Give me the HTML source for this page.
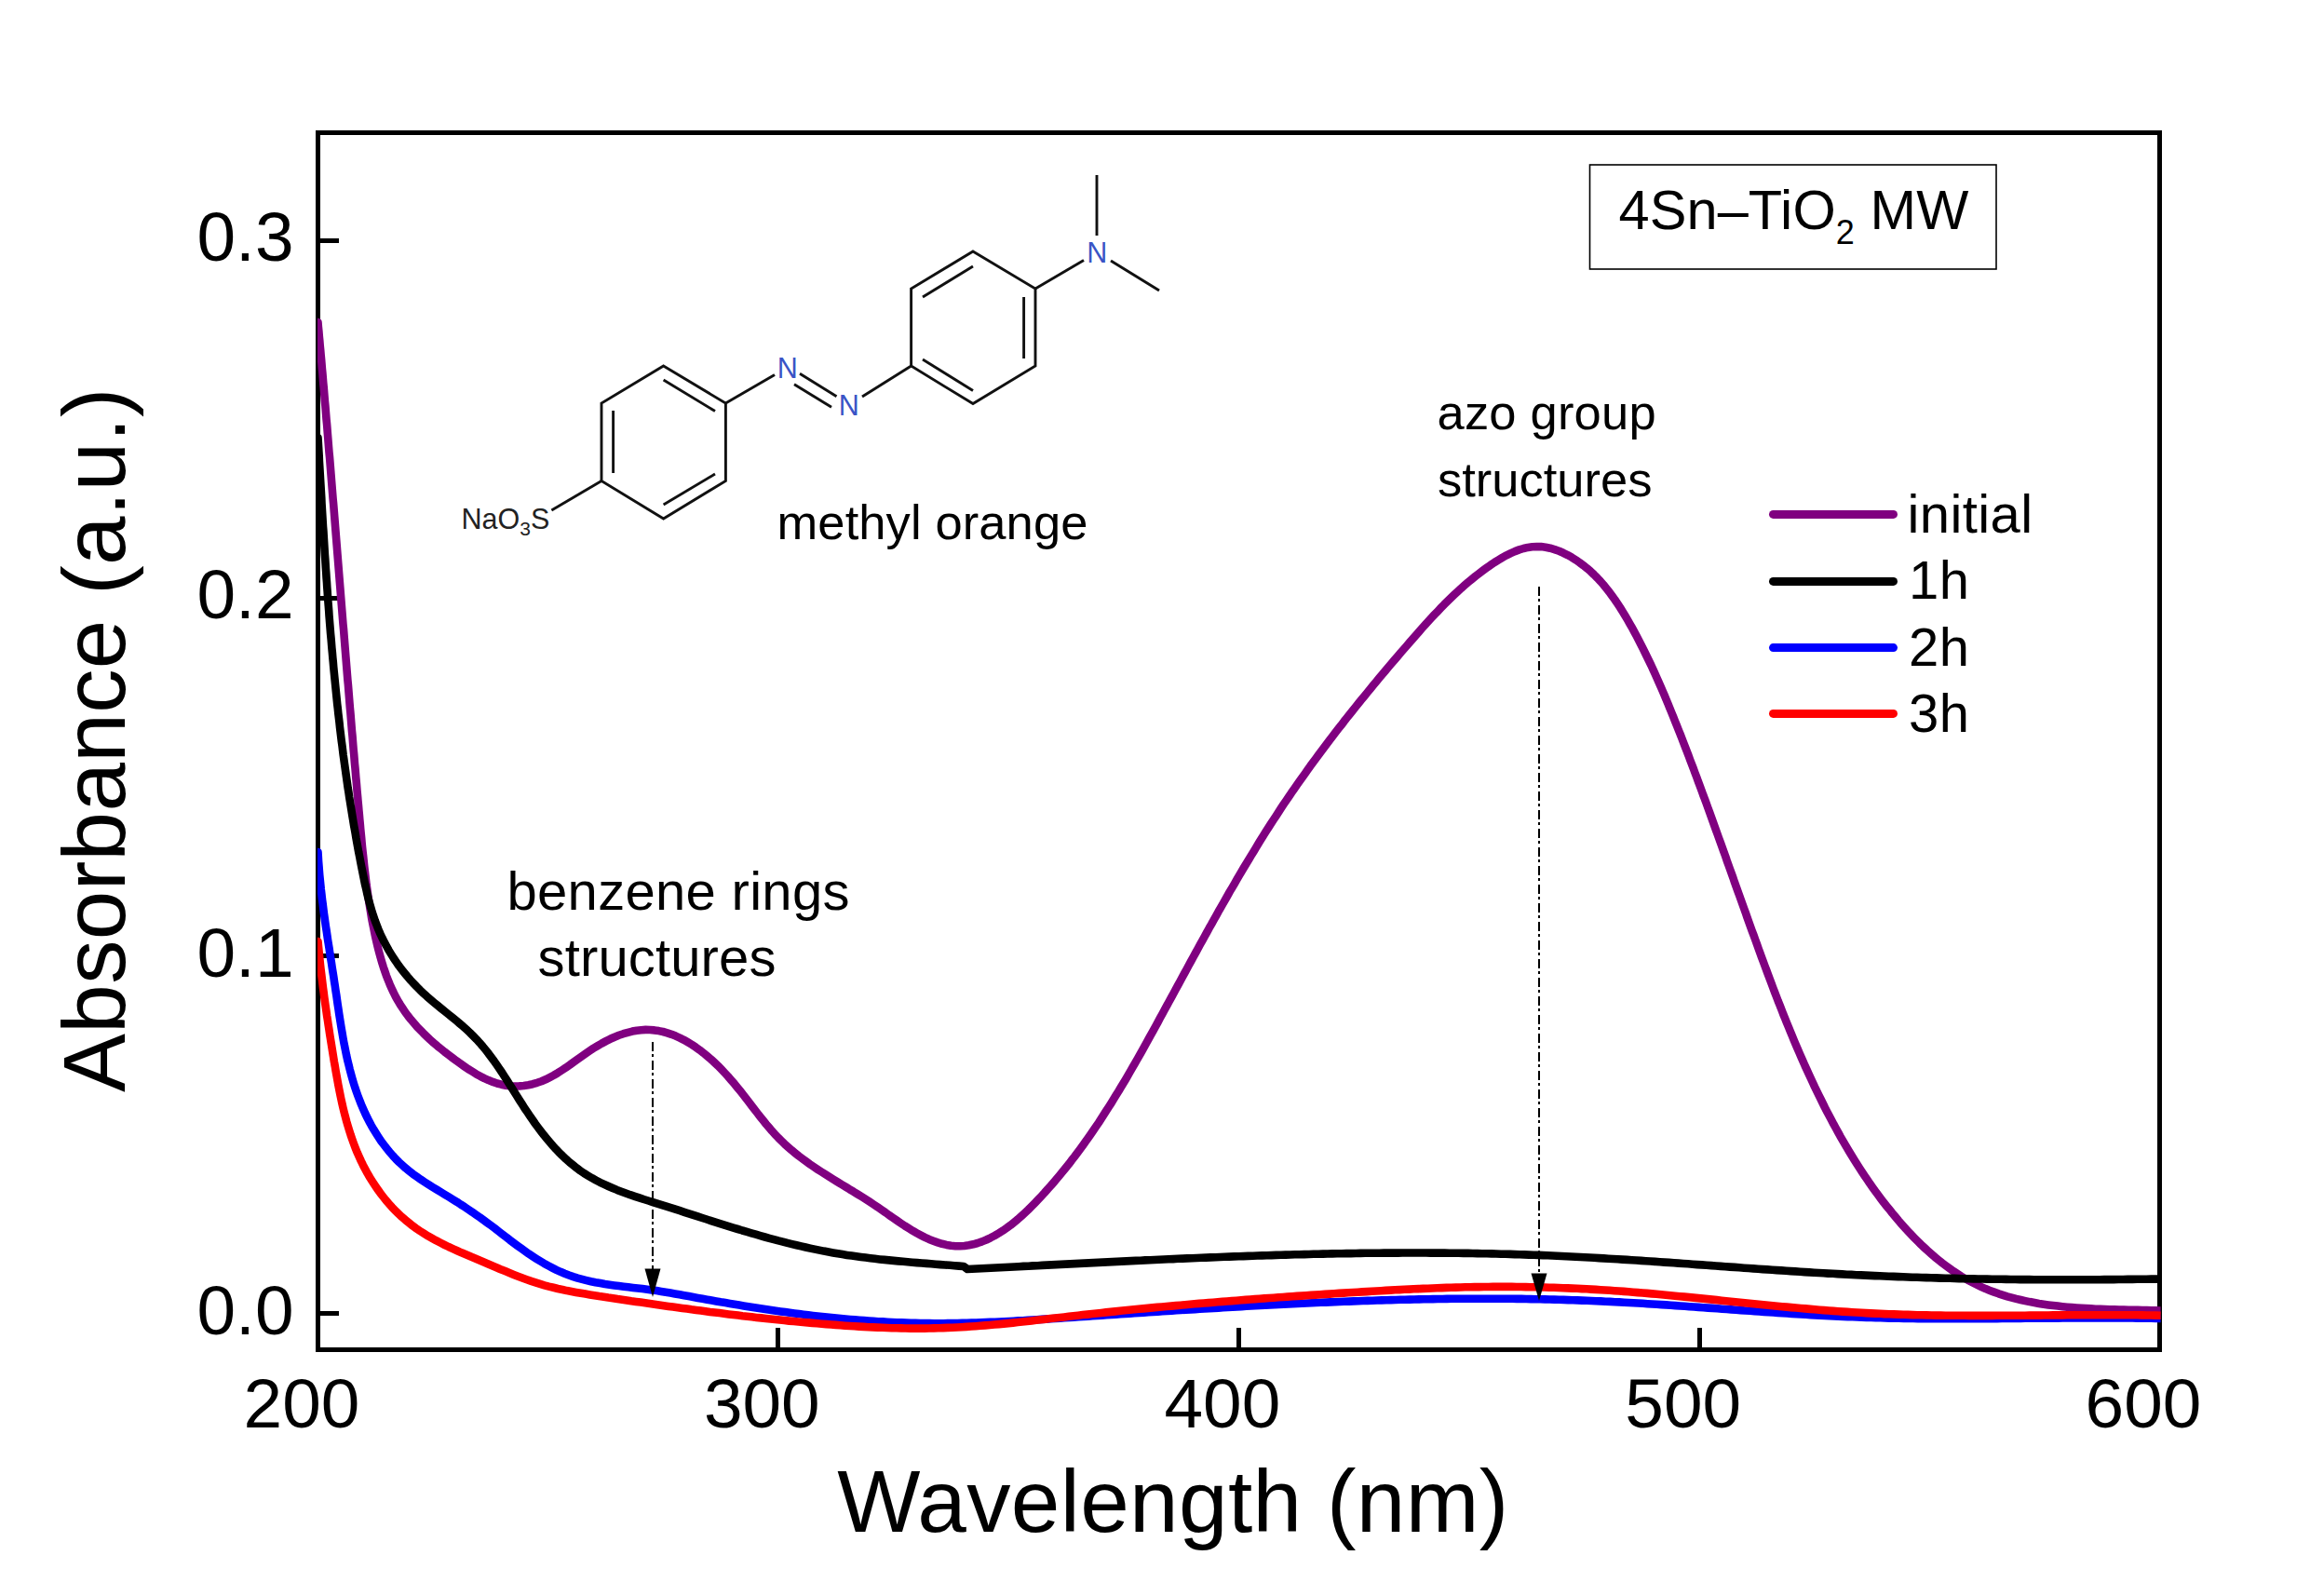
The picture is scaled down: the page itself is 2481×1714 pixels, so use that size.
<!DOCTYPE html>
<html lang="en"><head><meta charset="utf-8"><title>UV-Vis absorbance 4Sn-TiO2 MW</title>
<style>
html,body{margin:0;padding:0;background:#fff;}
body{width:2481px;height:1714px;overflow:hidden;}
svg{display:block;}
text{font-family:"Liberation Sans",Arial,Helvetica,sans-serif;fill:#000;}
.tick{font-size:74.8px;}
.axt{font-size:94.5px;}
.ann{font-size:52.5px;}
.leg{font-size:58px;}
.ttl{font-size:59.5px;}
.mol{font-size:30.5px;fill:#222;}
.molN{font-size:30.5px;fill:#3a54c6;}
.bond{stroke:#111;stroke-width:2.9;stroke-linecap:butt;stroke-linejoin:miter;fill:none;}
.crv{fill:none;stroke-width:8.6;stroke-linejoin:round;stroke-linecap:round;}
</style></head><body>
<svg width="2481" height="1714" viewBox="0 0 2481 1714">
<rect x="0" y="0" width="2481" height="1714" fill="#fff"/>
<g stroke="#000" stroke-width="5" fill="none" shape-rendering="crispEdges">
<rect x="341.5" y="142.5" width="1978.0" height="1307.0"/>
<line x1="835.8" y1="1447.0" x2="835.8" y2="1426.0"/>
<line x1="1330.4" y1="1447.0" x2="1330.4" y2="1426.0"/>
<line x1="1825.2" y1="1447.0" x2="1825.2" y2="1426.0"/>
<line x1="344.0" y1="1410.5" x2="364.0" y2="1410.5"/>
<line x1="344.0" y1="1026.5" x2="364.0" y2="1026.5"/>
<line x1="344.0" y1="642.4" x2="364.0" y2="642.4"/>
<line x1="344.0" y1="258.4" x2="364.0" y2="258.4"/>
</g>
<clipPath id="pc"><rect x="341" y="100" width="1979.6" height="1400"/></clipPath>
<g class="crv" clip-path="url(#pc)">
<path stroke="#800080" d="M341.5 346.0L341.9 351.0L342.4 356.0L342.8 361.0L343.3 366.0L343.7 371.0L344.2 375.9L344.6 380.9L345.1 385.9L345.5 390.9L345.9 395.9L346.4 400.9L346.8 405.9L347.2 410.9L347.7 415.9L348.1 420.9L348.5 425.9L348.9 430.8L349.4 435.8L349.8 440.8L350.2 445.8L350.6 450.8L351.1 455.8L351.5 460.8L351.9 465.8L352.3 470.8L352.7 475.8L353.1 480.8L353.5 485.8L354.0 490.8L354.4 495.7L354.8 500.7L355.2 505.7L355.6 510.7L356.0 515.7L356.4 520.7L356.8 525.7L357.2 530.7L357.6 535.7L358.1 540.7L358.5 545.7L358.9 550.7L359.3 555.7L359.7 560.7L360.1 565.7L360.5 570.6L360.9 575.6L361.3 580.6L361.7 585.6L362.1 590.6L362.5 595.6L362.9 600.6L363.3 605.6L363.7 610.6L364.1 615.6L364.5 620.6L364.9 625.6L365.3 630.6L365.7 635.6L366.1 640.5L366.5 645.5L366.9 650.5L367.3 655.5L367.7 660.5L368.1 665.5L368.5 670.5L369.0 675.5L369.4 680.5L369.8 685.5L370.2 690.5L370.6 695.5L371.0 700.5L371.4 705.5L371.8 710.4L372.2 715.4L372.6 720.4L373.0 725.4L373.4 730.4L373.9 735.4L374.3 740.4L374.7 745.4L375.1 750.4L375.5 755.4L375.9 760.4L376.4 765.4L376.8 770.4L377.2 775.3L377.6 780.3L378.0 785.3L378.5 790.3L378.9 795.3L379.3 800.3L379.7 805.3L380.2 810.3L380.6 815.3L381.0 820.3L381.5 825.3L381.9 830.2L382.3 835.2L382.8 840.2L383.2 845.2L383.6 850.2L384.1 855.2L384.5 860.2L385.0 865.2L385.4 870.2L385.9 875.1L386.3 880.1L386.8 885.1L387.2 890.1L387.7 895.1L388.2 900.1L388.6 905.1L389.1 910.1L389.6 915.0L390.2 920.0L390.7 925.0L391.2 930.0L391.8 935.0L392.4 939.9L393.0 944.9L393.6 949.9L394.3 954.8L395.0 959.8L395.7 964.8L396.5 969.7L397.3 974.7L398.1 979.6L398.9 984.6L399.8 989.5L400.8 994.5L401.8 999.4L402.8 1004.3L403.9 1009.2L405.0 1014.1L406.2 1019.0L407.5 1023.9L408.8 1028.7L410.2 1033.5L411.7 1038.3L413.3 1043.0L414.9 1047.7L416.7 1052.3L418.6 1056.9L420.6 1061.4L422.7 1065.9L424.9 1070.3L427.3 1074.6L429.8 1078.8L432.5 1082.9L435.2 1087.0L438.2 1091.0L441.2 1094.8L444.4 1098.6L447.7 1102.4L451.2 1106.0L454.7 1109.6L458.3 1113.1L462.0 1116.6L465.8 1120.0L469.7 1123.3L473.7 1126.5L477.7 1129.8L481.8 1132.9L485.9 1136.0L490.0 1139.1L494.2 1142.1L498.5 1145.1L502.7 1148.0L507.1 1150.7L511.4 1153.4L515.8 1155.8L520.3 1158.1L524.7 1160.1L529.3 1161.9L533.9 1163.5L538.5 1164.7L543.3 1165.7L548.0 1166.3L552.8 1166.5L557.7 1166.4L562.5 1166.0L567.4 1165.2L572.2 1164.2L576.9 1162.8L581.5 1161.2L586.0 1159.3L590.4 1157.1L594.8 1154.8L599.1 1152.2L603.3 1149.5L607.6 1146.7L611.8 1143.8L615.9 1140.8L620.1 1137.8L624.4 1134.8L628.6 1131.8L632.9 1128.8L637.2 1125.9L641.7 1123.2L646.2 1120.6L650.8 1118.1L655.4 1115.8L660.1 1113.7L664.8 1111.8L669.5 1110.2L674.3 1108.8L679.1 1107.6L683.9 1106.7L688.6 1106.2L693.4 1105.9L698.1 1106.0L702.8 1106.4L707.5 1107.1L712.1 1108.0L716.7 1109.3L721.2 1110.8L725.7 1112.6L730.1 1114.6L734.5 1116.8L738.8 1119.3L743.1 1121.9L747.3 1124.7L751.5 1127.7L755.5 1130.8L759.5 1134.1L763.5 1137.5L767.3 1141.0L771.1 1144.6L774.7 1148.3L778.3 1152.1L781.8 1155.9L785.2 1159.8L788.6 1163.7L791.8 1167.7L795.0 1171.6L798.2 1175.6L801.3 1179.6L804.4 1183.6L807.4 1187.6L810.5 1191.6L813.5 1195.5L816.6 1199.5L819.7 1203.3L822.8 1207.2L826.0 1210.9L829.2 1214.7L832.5 1218.3L835.9 1221.9L839.3 1225.3L842.8 1228.7L846.5 1232.0L850.2 1235.2L854.0 1238.3L857.8 1241.4L861.8 1244.4L865.8 1247.3L869.8 1250.2L873.9 1253.0L878.1 1255.8L882.3 1258.5L886.5 1261.2L890.8 1263.9L895.1 1266.6L899.4 1269.2L903.7 1271.9L908.1 1274.5L912.4 1277.2L916.8 1279.8L921.1 1282.5L925.5 1285.2L929.8 1287.9L934.1 1290.7L938.3 1293.5L942.6 1296.3L946.8 1299.2L951.0 1302.1L955.1 1305.1L959.3 1308.0L963.5 1310.9L967.6 1313.7L971.8 1316.5L976.1 1319.2L980.3 1321.8L984.6 1324.3L989.0 1326.6L993.4 1328.8L997.9 1330.9L1002.5 1332.7L1007.1 1334.4L1011.8 1335.8L1016.6 1336.9L1021.4 1337.8L1026.2 1338.2L1031.0 1338.3L1035.8 1338.0L1040.5 1337.3L1045.3 1336.3L1050.0 1335.0L1054.7 1333.4L1059.3 1331.5L1063.9 1329.3L1068.3 1327.0L1072.7 1324.4L1077.0 1321.7L1081.2 1318.8L1085.3 1315.8L1089.3 1312.6L1093.2 1309.4L1097.0 1306.0L1100.7 1302.6L1104.4 1299.1L1108.0 1295.5L1111.5 1291.9L1115.0 1288.3L1118.5 1284.6L1121.9 1280.9L1125.2 1277.1L1128.6 1273.4L1131.9 1269.6L1135.1 1265.8L1138.3 1262.0L1141.5 1258.1L1144.6 1254.2L1147.8 1250.3L1150.8 1246.3L1153.9 1242.4L1156.9 1238.4L1159.8 1234.4L1162.8 1230.4L1165.7 1226.3L1168.6 1222.2L1171.4 1218.2L1174.3 1214.0L1177.1 1209.9L1179.9 1205.8L1182.6 1201.6L1185.3 1197.4L1188.0 1193.2L1190.7 1189.0L1193.4 1184.8L1196.0 1180.6L1198.6 1176.3L1201.3 1172.0L1203.8 1167.8L1206.4 1163.5L1209.0 1159.2L1211.5 1154.9L1214.0 1150.5L1216.5 1146.2L1219.0 1141.9L1221.5 1137.5L1224.0 1133.1L1226.4 1128.8L1228.9 1124.4L1231.3 1120.0L1233.7 1115.6L1236.2 1111.2L1238.6 1106.9L1241.0 1102.5L1243.4 1098.1L1245.8 1093.6L1248.2 1089.2L1250.6 1084.8L1253.0 1080.4L1255.4 1076.0L1257.8 1071.6L1260.2 1067.2L1262.6 1062.8L1265.0 1058.4L1267.4 1054.0L1269.8 1049.5L1272.2 1045.1L1274.6 1040.7L1277.0 1036.3L1279.4 1031.9L1281.8 1027.5L1284.2 1023.1L1286.6 1018.7L1289.0 1014.3L1291.5 1009.9L1293.9 1005.5L1296.3 1001.1L1298.7 996.7L1301.2 992.4L1303.6 988.0L1306.1 983.6L1308.5 979.2L1311.0 974.9L1313.5 970.5L1316.0 966.1L1318.4 961.8L1320.9 957.4L1323.5 953.1L1326.0 948.8L1328.5 944.4L1331.0 940.1L1333.6 935.8L1336.1 931.5L1338.7 927.2L1341.3 922.9L1343.9 918.6L1346.5 914.4L1349.1 910.1L1351.7 905.8L1354.3 901.6L1357.0 897.3L1359.6 893.1L1362.3 888.9L1365.0 884.7L1367.7 880.5L1370.5 876.3L1373.2 872.1L1375.9 867.9L1378.7 863.7L1381.5 859.6L1384.3 855.5L1387.1 851.3L1390.0 847.2L1392.8 843.1L1395.7 839.0L1398.6 834.9L1401.5 830.9L1404.4 826.8L1407.3 822.7L1410.3 818.7L1413.2 814.7L1416.2 810.6L1419.2 806.6L1422.2 802.6L1425.2 798.6L1428.2 794.6L1431.3 790.6L1434.3 786.7L1437.4 782.7L1440.5 778.8L1443.5 774.8L1446.6 770.9L1449.7 767.0L1452.9 763.0L1456.0 759.1L1459.1 755.2L1462.3 751.3L1465.5 747.4L1468.6 743.6L1471.8 739.7L1475.0 735.8L1478.2 732.0L1481.4 728.1L1484.6 724.3L1487.9 720.4L1491.1 716.6L1494.3 712.8L1497.6 708.9L1500.9 705.1L1504.1 701.3L1507.4 697.5L1510.7 693.7L1514.0 689.9L1517.3 686.1L1520.6 682.4L1523.9 678.6L1527.2 674.8L1530.5 671.1L1533.9 667.4L1537.3 663.7L1540.7 660.0L1544.2 656.4L1547.6 652.8L1551.1 649.2L1554.7 645.7L1558.3 642.2L1561.9 638.7L1565.5 635.3L1569.2 631.9L1573.0 628.6L1576.8 625.3L1580.7 622.1L1584.6 618.9L1588.6 615.8L1592.6 612.8L1596.7 609.8L1600.8 606.9L1605.1 604.0L1609.4 601.3L1613.7 598.7L1618.1 596.3L1622.6 594.1L1627.1 592.1L1631.7 590.4L1636.3 589.0L1641.0 587.9L1645.7 587.2L1650.5 587.0L1655.2 587.1L1660.0 587.7L1664.9 588.7L1669.6 590.1L1674.4 591.8L1679.0 593.8L1683.6 596.1L1688.1 598.6L1692.4 601.3L1696.6 604.2L1700.6 607.2L1704.5 610.3L1708.3 613.6L1711.9 617.0L1715.5 620.6L1718.9 624.2L1722.2 628.0L1725.3 631.9L1728.4 635.8L1731.4 639.9L1734.4 644.0L1737.2 648.2L1740.0 652.4L1742.7 656.7L1745.3 661.0L1747.9 665.4L1750.4 669.8L1752.9 674.2L1755.3 678.6L1757.7 683.1L1760.0 687.5L1762.3 692.0L1764.6 696.5L1766.8 701.0L1769.0 705.5L1771.2 710.0L1773.4 714.5L1775.5 719.1L1777.5 723.6L1779.6 728.2L1781.6 732.8L1783.6 737.3L1785.6 741.9L1787.6 746.5L1789.5 751.1L1791.4 755.7L1793.3 760.3L1795.2 765.0L1797.1 769.6L1798.9 774.2L1800.8 778.9L1802.6 783.5L1804.5 788.1L1806.3 792.8L1808.1 797.5L1809.9 802.1L1811.7 806.8L1813.5 811.4L1815.2 816.1L1817.0 820.8L1818.8 825.4L1820.5 830.1L1822.3 834.8L1824.0 839.5L1825.8 844.2L1827.5 848.9L1829.2 853.6L1831.0 858.2L1832.7 862.9L1834.4 867.6L1836.1 872.3L1837.8 877.0L1839.5 881.7L1841.2 886.5L1842.9 891.2L1844.6 895.9L1846.3 900.6L1848.0 905.3L1849.7 910.0L1851.4 914.7L1853.1 919.4L1854.7 924.2L1856.4 928.9L1858.1 933.6L1859.8 938.3L1861.5 943.0L1863.1 947.8L1864.8 952.5L1866.5 957.2L1868.2 961.9L1869.9 966.6L1871.6 971.4L1873.3 976.1L1875.0 980.8L1876.6 985.5L1878.3 990.3L1880.0 995.0L1881.7 999.7L1883.5 1004.4L1885.2 1009.1L1886.9 1013.8L1888.6 1018.6L1890.3 1023.3L1892.0 1028.0L1893.8 1032.7L1895.5 1037.4L1897.3 1042.1L1899.0 1046.8L1900.8 1051.5L1902.6 1056.2L1904.3 1060.9L1906.1 1065.6L1907.9 1070.3L1909.7 1075.0L1911.6 1079.6L1913.4 1084.3L1915.2 1089.0L1917.1 1093.6L1919.0 1098.3L1920.9 1102.9L1922.8 1107.6L1924.7 1112.2L1926.6 1116.8L1928.5 1121.4L1930.5 1126.0L1932.5 1130.6L1934.5 1135.2L1936.5 1139.8L1938.5 1144.4L1940.6 1148.9L1942.7 1153.5L1944.8 1158.0L1946.9 1162.5L1949.0 1167.1L1951.2 1171.6L1953.4 1176.1L1955.6 1180.5L1957.8 1185.0L1960.0 1189.5L1962.3 1193.9L1964.6 1198.3L1967.0 1202.8L1969.3 1207.2L1971.7 1211.5L1974.1 1215.9L1976.5 1220.3L1979.0 1224.6L1981.5 1228.9L1984.0 1233.2L1986.6 1237.5L1989.2 1241.8L1991.8 1246.0L1994.5 1250.3L1997.2 1254.5L1999.9 1258.6L2002.7 1262.8L2005.5 1266.9L2008.3 1271.1L2011.2 1275.2L2014.1 1279.2L2017.1 1283.3L2020.1 1287.3L2023.1 1291.3L2026.2 1295.2L2029.4 1299.1L2032.5 1303.0L2035.8 1306.9L2039.0 1310.8L2042.3 1314.6L2045.7 1318.4L2049.1 1322.1L2052.6 1325.8L2056.1 1329.4L2059.7 1333.0L2063.3 1336.6L2066.9 1340.0L2070.6 1343.4L2074.4 1346.8L2078.2 1350.1L2082.1 1353.3L2086.0 1356.4L2090.0 1359.4L2094.0 1362.3L2098.1 1365.2L2102.2 1367.9L2106.4 1370.6L2110.6 1373.1L2114.9 1375.5L2119.3 1377.8L2123.7 1380.0L2128.1 1382.1L2132.6 1384.1L2137.2 1385.9L2141.8 1387.6L2146.5 1389.3L2151.2 1390.8L2155.9 1392.3L2160.7 1393.6L2165.5 1394.9L2170.3 1396.0L2175.2 1397.1L2180.1 1398.1L2185.1 1399.0L2190.0 1399.9L2195.0 1400.7L2200.0 1401.4L2205.0 1402.0L2210.1 1402.6L2215.1 1403.2L2220.2 1403.7L2225.3 1404.1L2230.3 1404.5L2235.4 1404.8L2240.5 1405.1L2245.6 1405.4L2250.7 1405.7L2255.8 1405.9L2260.9 1406.1L2265.9 1406.2L2271.0 1406.4L2276.0 1406.5L2281.1 1406.6L2286.1 1406.7L2291.1 1406.8L2296.0 1406.9L2301.0 1407.0L2305.9 1407.1L2310.8 1407.2L2315.7 1407.4L2320.5 1407.5"/>
<path stroke="#000000" d="M341.5 470.0L341.8 475.0L342.1 480.0L342.4 485.0L342.7 490.1L342.9 495.1L343.2 500.1L343.5 505.1L343.8 510.1L344.1 515.2L344.4 520.2L344.7 525.2L345.0 530.2L345.3 535.2L345.5 540.3L345.8 545.3L346.1 550.3L346.4 555.3L346.7 560.4L347.0 565.4L347.4 570.4L347.7 575.4L348.0 580.5L348.3 585.5L348.6 590.5L348.9 595.6L349.3 600.6L349.6 605.6L349.9 610.6L350.3 615.7L350.6 620.7L351.0 625.7L351.3 630.7L351.7 635.8L352.0 640.8L352.4 645.8L352.8 650.8L353.2 655.8L353.5 660.9L353.9 665.9L354.3 670.9L354.7 675.9L355.1 680.9L355.6 686.0L356.0 691.0L356.4 696.0L356.9 701.0L357.3 706.0L357.8 711.0L358.2 716.0L358.7 721.1L359.2 726.1L359.7 731.1L360.2 736.1L360.7 741.1L361.2 746.1L361.7 751.1L362.2 756.1L362.8 761.1L363.3 766.1L363.9 771.1L364.5 776.1L365.0 781.1L365.6 786.1L366.2 791.0L366.8 796.0L367.5 801.0L368.1 806.0L368.7 811.0L369.4 815.9L370.1 820.9L370.8 825.9L371.5 830.9L372.2 835.8L372.9 840.8L373.6 845.8L374.4 850.7L375.1 855.7L375.9 860.6L376.7 865.6L377.5 870.5L378.3 875.5L379.1 880.4L379.9 885.4L380.8 890.3L381.7 895.3L382.5 900.3L383.4 905.2L384.3 910.2L385.2 915.2L386.2 920.1L387.1 925.1L388.1 930.1L389.1 935.1L390.1 940.1L391.1 945.1L392.1 950.1L393.3 955.1L394.4 960.0L395.6 965.0L396.9 969.9L398.3 974.8L399.7 979.6L401.3 984.4L402.9 989.1L404.7 993.8L406.5 998.4L408.5 1003.0L410.6 1007.5L412.8 1011.9L415.2 1016.3L417.6 1020.6L420.2 1024.9L422.8 1029.0L425.6 1033.1L428.4 1037.2L431.4 1041.1L434.5 1045.0L437.6 1048.8L440.9 1052.6L444.3 1056.2L447.7 1059.8L451.2 1063.3L454.9 1066.8L458.6 1070.2L462.4 1073.5L466.2 1076.7L470.1 1079.9L474.0 1083.1L477.9 1086.3L481.9 1089.5L485.8 1092.6L489.7 1095.8L493.6 1099.1L497.4 1102.3L501.1 1105.7L504.8 1109.1L508.3 1112.6L511.8 1116.2L515.1 1119.8L518.4 1123.6L521.5 1127.4L524.6 1131.3L527.6 1135.3L530.6 1139.3L533.4 1143.4L536.3 1147.6L539.1 1151.7L541.8 1156.0L544.5 1160.2L547.2 1164.5L549.9 1168.7L552.6 1173.0L555.3 1177.3L558.0 1181.6L560.8 1185.9L563.5 1190.2L566.4 1194.4L569.2 1198.6L572.1 1202.8L575.0 1207.0L578.0 1211.0L581.1 1215.1L584.2 1219.1L587.4 1223.0L590.6 1226.8L593.9 1230.6L597.3 1234.3L600.8 1237.9L604.3 1241.4L607.9 1244.8L611.6 1248.1L615.4 1251.2L619.3 1254.3L623.2 1257.2L627.3 1260.0L631.5 1262.6L635.7 1265.1L640.0 1267.5L644.4 1269.8L648.9 1271.9L653.5 1274.0L658.1 1276.0L662.7 1277.9L667.4 1279.7L672.2 1281.5L676.9 1283.2L681.8 1284.8L686.6 1286.4L691.4 1288.0L696.3 1289.5L701.2 1291.1L706.1 1292.6L710.9 1294.1L715.8 1295.6L720.6 1297.1L725.4 1298.7L730.2 1300.2L735.0 1301.8L739.8 1303.3L744.6 1304.9L749.4 1306.4L754.2 1308.0L759.0 1309.5L763.8 1311.1L768.6 1312.6L773.3 1314.1L778.1 1315.6L782.9 1317.1L787.7 1318.6L792.5 1320.0L797.3 1321.5L802.2 1322.9L807.0 1324.3L811.8 1325.7L816.6 1327.1L821.5 1328.5L826.3 1329.8L831.2 1331.1L836.0 1332.4L840.9 1333.6L845.7 1334.9L850.6 1336.1L855.5 1337.2L860.4 1338.4L865.3 1339.5L870.2 1340.6L875.1 1341.6L880.0 1342.6L884.9 1343.6L889.9 1344.5L894.8 1345.4L899.8 1346.3L904.7 1347.1L909.7 1347.9L914.7 1348.6L919.7 1349.3L924.7 1350.0L929.7 1350.6L934.7 1351.2L939.7 1351.8L944.7 1352.4L949.8 1352.9L954.8 1353.4L959.8 1353.9L964.8 1354.4L969.9 1354.8L974.9 1355.3L979.9 1355.7L985.0 1356.1L990.0 1356.5L995.0 1356.9L1000.0 1357.3L1005.0 1357.7L1010.0 1358.1L1015.1 1358.5L1020.1 1358.8L1025.0 1359.2L1030.0 1359.6L1035.0 1360.0L1039.0 1363.0L1044.0 1362.8L1049.0 1362.5L1054.1 1362.3L1059.1 1362.0L1064.1 1361.7L1069.1 1361.5L1074.1 1361.2L1079.2 1361.0L1084.2 1360.7L1089.2 1360.5L1094.2 1360.2L1099.2 1359.9L1104.3 1359.7L1109.3 1359.4L1114.3 1359.2L1119.3 1358.9L1124.4 1358.6L1129.4 1358.4L1134.4 1358.1L1139.4 1357.9L1144.4 1357.6L1149.5 1357.4L1154.5 1357.1L1159.5 1356.9L1164.5 1356.6L1169.6 1356.4L1174.6 1356.1L1179.6 1355.9L1184.6 1355.6L1189.7 1355.4L1194.7 1355.1L1199.7 1354.9L1204.7 1354.6L1209.8 1354.4L1214.8 1354.1L1219.8 1353.9L1224.8 1353.7L1229.9 1353.4L1234.9 1353.2L1239.9 1353.0L1244.9 1352.7L1250.0 1352.5L1255.0 1352.3L1260.0 1352.1L1265.0 1351.8L1270.1 1351.6L1275.1 1351.4L1280.1 1351.2L1285.2 1351.0L1290.2 1350.8L1295.2 1350.6L1300.2 1350.4L1305.3 1350.2L1310.3 1350.0L1315.3 1349.8L1320.3 1349.6L1325.4 1349.4L1330.4 1349.2L1335.4 1349.1L1340.5 1348.9L1345.5 1348.7L1350.5 1348.5L1355.5 1348.4L1360.6 1348.2L1365.6 1348.1L1370.6 1347.9L1375.7 1347.8L1380.7 1347.6L1385.7 1347.5L1390.7 1347.3L1395.8 1347.2L1400.8 1347.1L1405.8 1347.0L1410.9 1346.8L1415.9 1346.7L1420.9 1346.6L1425.9 1346.5L1431.0 1346.4L1436.0 1346.3L1441.0 1346.2L1446.1 1346.1L1451.1 1346.1L1456.1 1346.0L1461.1 1345.9L1466.2 1345.8L1471.2 1345.8L1476.2 1345.7L1481.3 1345.7L1486.3 1345.6L1491.3 1345.6L1496.3 1345.6L1501.4 1345.6L1506.4 1345.5L1511.4 1345.5L1516.4 1345.5L1521.5 1345.5L1526.5 1345.5L1531.5 1345.5L1536.6 1345.6L1541.6 1345.6L1546.6 1345.6L1551.6 1345.6L1556.7 1345.7L1561.7 1345.7L1566.7 1345.8L1571.7 1345.9L1576.8 1345.9L1581.8 1346.0L1586.8 1346.1L1591.9 1346.2L1596.9 1346.3L1601.9 1346.4L1606.9 1346.5L1612.0 1346.7L1617.0 1346.8L1622.0 1346.9L1627.0 1347.1L1632.1 1347.2L1637.1 1347.4L1642.1 1347.6L1647.1 1347.7L1652.2 1347.9L1657.2 1348.1L1662.2 1348.3L1667.2 1348.5L1672.2 1348.7L1677.3 1349.0L1682.3 1349.2L1687.3 1349.5L1692.3 1349.7L1697.4 1350.0L1702.4 1350.2L1707.4 1350.5L1712.4 1350.8L1717.5 1351.1L1722.5 1351.4L1727.5 1351.7L1732.5 1352.0L1737.5 1352.3L1742.6 1352.6L1747.6 1352.9L1752.6 1353.2L1757.6 1353.5L1762.7 1353.9L1767.7 1354.2L1772.7 1354.5L1777.7 1354.9L1782.7 1355.2L1787.8 1355.6L1792.8 1355.9L1797.8 1356.3L1802.8 1356.6L1807.8 1357.0L1812.9 1357.3L1817.9 1357.7L1822.9 1358.1L1827.9 1358.4L1832.9 1358.8L1838.0 1359.1L1843.0 1359.5L1848.0 1359.9L1853.0 1360.2L1858.0 1360.6L1863.1 1360.9L1868.1 1361.3L1873.1 1361.7L1878.1 1362.0L1883.2 1362.4L1888.2 1362.7L1893.2 1363.1L1898.2 1363.4L1903.2 1363.7L1908.3 1364.1L1913.3 1364.4L1918.3 1364.8L1923.3 1365.1L1928.3 1365.4L1933.4 1365.7L1938.4 1366.1L1943.4 1366.4L1948.4 1366.7L1953.5 1367.0L1958.5 1367.3L1963.5 1367.6L1968.5 1367.8L1973.5 1368.1L1978.6 1368.4L1983.6 1368.7L1988.6 1368.9L1993.6 1369.2L1998.7 1369.4L2003.7 1369.6L2008.7 1369.9L2013.7 1370.1L2018.8 1370.3L2023.8 1370.5L2028.8 1370.7L2033.8 1370.9L2038.9 1371.1L2043.9 1371.3L2048.9 1371.5L2053.9 1371.7L2059.0 1371.8L2064.0 1372.0L2069.0 1372.1L2074.0 1372.3L2079.1 1372.4L2084.1 1372.6L2089.1 1372.7L2094.1 1372.8L2099.2 1372.9L2104.2 1373.1L2109.2 1373.2L2114.2 1373.3L2119.3 1373.4L2124.3 1373.5L2129.3 1373.5L2134.3 1373.6L2139.4 1373.7L2144.4 1373.8L2149.4 1373.8L2154.5 1373.9L2159.5 1374.0L2164.5 1374.0L2169.5 1374.1L2174.6 1374.1L2179.6 1374.1L2184.6 1374.2L2189.7 1374.2L2194.7 1374.2L2199.7 1374.2L2204.8 1374.3L2209.8 1374.3L2214.8 1374.3L2219.8 1374.3L2224.9 1374.3L2229.9 1374.3L2234.9 1374.3L2240.0 1374.2L2245.0 1374.2L2250.0 1374.2L2255.1 1374.2L2260.1 1374.1L2265.1 1374.1L2270.2 1374.1L2275.2 1374.0L2280.2 1374.0L2285.3 1373.9L2290.3 1373.9L2295.3 1373.8L2300.4 1373.8L2305.4 1373.7L2310.4 1373.6L2315.5 1373.6L2320.5 1373.5"/>
<path stroke="#0000ff" d="M341.5 915.0L341.8 920.1L342.1 925.2L342.5 930.2L342.9 935.3L343.3 940.3L343.8 945.3L344.3 950.3L344.8 955.3L345.4 960.2L345.9 965.2L346.6 970.1L347.2 975.1L347.8 980.0L348.5 984.9L349.2 989.9L349.9 994.8L350.7 999.7L351.4 1004.6L352.1 1009.5L352.9 1014.4L353.7 1019.3L354.4 1024.3L355.2 1029.2L356.0 1034.1L356.7 1039.0L357.5 1044.0L358.3 1048.9L359.0 1053.9L359.8 1058.9L360.5 1063.8L361.3 1068.8L362.0 1073.8L362.7 1078.8L363.5 1083.9L364.2 1088.9L365.0 1093.9L365.8 1098.9L366.6 1103.9L367.5 1108.9L368.3 1113.9L369.2 1118.9L370.2 1123.9L371.2 1128.8L372.2 1133.8L373.3 1138.7L374.5 1143.6L375.7 1148.5L377.0 1153.3L378.3 1158.1L379.7 1162.9L381.2 1167.7L382.8 1172.4L384.5 1177.1L386.3 1181.8L388.1 1186.4L390.1 1191.0L392.1 1195.5L394.3 1200.0L396.5 1204.4L398.9 1208.8L401.4 1213.1L404.0 1217.3L406.7 1221.5L409.4 1225.6L412.4 1229.5L415.4 1233.4L418.5 1237.2L421.8 1241.0L425.1 1244.6L428.6 1248.1L432.2 1251.4L435.9 1254.7L439.8 1257.8L443.7 1260.9L447.8 1263.8L451.9 1266.7L456.1 1269.5L460.3 1272.2L464.6 1274.9L469.0 1277.5L473.3 1280.1L477.7 1282.8L482.0 1285.4L486.3 1288.1L490.6 1290.7L494.8 1293.5L499.1 1296.2L503.2 1299.0L507.4 1301.8L511.5 1304.7L515.6 1307.5L519.7 1310.5L523.7 1313.4L527.8 1316.4L531.8 1319.4L535.7 1322.5L539.7 1325.6L543.7 1328.6L547.6 1331.7L551.6 1334.7L555.6 1337.7L559.6 1340.6L563.7 1343.5L567.8 1346.4L571.9 1349.1L576.1 1351.8L580.3 1354.4L584.5 1356.9L588.8 1359.3L593.2 1361.6L597.6 1363.8L602.0 1365.8L606.5 1367.7L611.1 1369.5L615.7 1371.1L620.4 1372.6L625.2 1373.9L630.0 1375.1L634.8 1376.2L639.7 1377.2L644.7 1378.1L649.7 1379.0L654.7 1379.7L659.7 1380.4L664.7 1381.1L669.8 1381.7L674.8 1382.3L679.9 1382.9L685.0 1383.5L690.0 1384.1L695.1 1384.7L700.1 1385.4L705.1 1386.1L710.1 1386.9L715.0 1387.7L720.0 1388.5L724.9 1389.4L729.9 1390.3L734.8 1391.2L739.7 1392.1L744.6 1393.0L749.5 1393.9L754.5 1394.8L759.4 1395.7L764.3 1396.5L769.2 1397.4L774.1 1398.3L779.1 1399.1L784.0 1399.9L788.9 1400.8L793.8 1401.6L798.8 1402.4L803.7 1403.2L808.6 1404.0L813.6 1404.8L818.5 1405.5L823.5 1406.3L828.4 1407.0L833.4 1407.7L838.3 1408.4L843.3 1409.1L848.2 1409.8L853.2 1410.5L858.2 1411.1L863.1 1411.7L868.1 1412.3L873.1 1412.9L878.1 1413.5L883.1 1414.0L888.1 1414.6L893.1 1415.1L898.1 1415.6L903.1 1416.1L908.1 1416.5L913.1 1417.0L918.1 1417.4L923.1 1417.8L928.1 1418.1L933.1 1418.5L938.1 1418.8L943.1 1419.2L948.2 1419.4L953.2 1419.7L958.2 1420.0L963.2 1420.2L968.2 1420.4L973.3 1420.6L978.3 1420.7L983.3 1420.9L988.3 1421.0L993.3 1421.1L998.3 1421.1L1003.4 1421.2L1008.4 1421.2L1013.4 1421.2L1018.4 1421.1L1023.4 1421.1L1028.4 1421.0L1033.4 1420.9L1038.4 1420.8L1043.4 1420.6L1048.4 1420.5L1053.4 1420.3L1058.5 1420.1L1063.5 1419.9L1068.5 1419.7L1073.5 1419.5L1078.5 1419.2L1083.5 1419.0L1088.5 1418.7L1093.5 1418.4L1098.5 1418.2L1103.5 1417.9L1108.5 1417.6L1113.5 1417.2L1118.5 1416.9L1123.5 1416.6L1128.5 1416.3L1133.5 1416.0L1138.5 1415.6L1143.5 1415.3L1148.5 1414.9L1153.5 1414.6L1158.5 1414.3L1163.5 1413.9L1168.5 1413.6L1173.5 1413.3L1178.5 1412.9L1183.5 1412.6L1188.5 1412.3L1193.5 1411.9L1198.5 1411.6L1203.5 1411.3L1208.5 1410.9L1213.5 1410.6L1218.5 1410.3L1223.5 1409.9L1228.5 1409.6L1233.5 1409.3L1238.5 1409.0L1243.5 1408.6L1248.5 1408.3L1253.5 1408.0L1258.5 1407.7L1263.5 1407.3L1268.5 1407.0L1273.5 1406.7L1278.5 1406.4L1283.5 1406.1L1288.6 1405.8L1293.6 1405.5L1298.6 1405.2L1303.6 1404.9L1308.6 1404.6L1313.6 1404.3L1318.6 1404.0L1323.6 1403.7L1328.6 1403.4L1333.6 1403.1L1338.6 1402.8L1343.6 1402.5L1348.6 1402.3L1353.7 1402.0L1358.7 1401.7L1363.7 1401.5L1368.7 1401.2L1373.7 1400.9L1378.7 1400.7L1383.7 1400.4L1388.7 1400.2L1393.7 1399.9L1398.7 1399.7L1403.7 1399.5L1408.8 1399.2L1413.8 1399.0L1418.8 1398.8L1423.8 1398.6L1428.8 1398.4L1433.8 1398.2L1438.8 1398.0L1443.8 1397.8L1448.8 1397.6L1453.8 1397.4L1458.9 1397.2L1463.9 1397.0L1468.9 1396.9L1473.9 1396.7L1478.9 1396.5L1483.9 1396.4L1488.9 1396.2L1493.9 1396.1L1498.9 1396.0L1504.0 1395.8L1509.0 1395.7L1514.0 1395.6L1519.0 1395.5L1524.0 1395.4L1529.0 1395.3L1534.0 1395.2L1539.0 1395.1L1544.0 1395.0L1549.1 1395.0L1554.1 1394.9L1559.1 1394.8L1564.1 1394.8L1569.1 1394.8L1574.1 1394.7L1579.1 1394.7L1584.1 1394.7L1589.1 1394.7L1594.1 1394.7L1599.2 1394.7L1604.2 1394.7L1609.2 1394.7L1614.2 1394.7L1619.2 1394.8L1624.2 1394.8L1629.2 1394.9L1634.2 1394.9L1639.2 1395.0L1644.2 1395.1L1649.2 1395.2L1654.3 1395.3L1659.3 1395.4L1664.3 1395.5L1669.3 1395.6L1674.3 1395.8L1679.3 1395.9L1684.3 1396.1L1689.3 1396.2L1694.3 1396.4L1699.3 1396.6L1704.3 1396.8L1709.3 1397.0L1714.3 1397.2L1719.3 1397.4L1724.4 1397.7L1729.4 1397.9L1734.4 1398.2L1739.4 1398.4L1744.4 1398.7L1749.4 1399.0L1754.4 1399.3L1759.4 1399.5L1764.4 1399.8L1769.4 1400.2L1774.4 1400.5L1779.4 1400.8L1784.4 1401.1L1789.4 1401.4L1794.4 1401.8L1799.4 1402.1L1804.4 1402.5L1809.4 1402.8L1814.4 1403.2L1819.4 1403.5L1824.4 1403.9L1829.4 1404.2L1834.5 1404.6L1839.5 1404.9L1844.5 1405.3L1849.5 1405.7L1854.5 1406.0L1859.5 1406.4L1864.5 1406.7L1869.5 1407.1L1874.5 1407.5L1879.5 1407.8L1884.5 1408.2L1889.5 1408.5L1894.5 1408.9L1899.5 1409.2L1904.5 1409.5L1909.5 1409.9L1914.5 1410.2L1919.5 1410.5L1924.5 1410.9L1929.5 1411.2L1934.5 1411.5L1939.5 1411.8L1944.6 1412.1L1949.6 1412.4L1954.6 1412.6L1959.6 1412.9L1964.6 1413.2L1969.6 1413.4L1974.6 1413.6L1979.6 1413.9L1984.6 1414.1L1989.6 1414.3L1994.6 1414.5L1999.6 1414.7L2004.6 1414.9L2009.7 1415.0L2014.7 1415.2L2019.7 1415.3L2024.7 1415.5L2029.7 1415.6L2034.7 1415.7L2039.7 1415.8L2044.7 1415.9L2049.7 1415.9L2054.8 1416.0L2059.8 1416.1L2064.8 1416.1L2069.8 1416.2L2074.8 1416.2L2079.8 1416.2L2084.8 1416.2L2089.9 1416.3L2094.9 1416.3L2099.9 1416.3L2104.9 1416.3L2109.9 1416.3L2114.9 1416.2L2119.9 1416.2L2125.0 1416.2L2130.0 1416.2L2135.0 1416.1L2140.0 1416.1L2145.0 1416.1L2150.0 1416.0L2155.0 1416.0L2160.1 1416.0L2165.1 1415.9L2170.1 1415.9L2175.1 1415.8L2180.1 1415.8L2185.1 1415.8L2190.1 1415.7L2195.2 1415.7L2200.2 1415.6L2205.2 1415.6L2210.2 1415.6L2215.2 1415.5L2220.2 1415.5L2225.3 1415.5L2230.3 1415.4L2235.3 1415.4L2240.3 1415.4L2245.3 1415.4L2250.3 1415.4L2255.3 1415.4L2260.4 1415.4L2265.4 1415.4L2270.4 1415.4L2275.4 1415.4L2280.4 1415.5L2285.4 1415.5L2290.4 1415.5L2295.4 1415.6L2300.5 1415.7L2305.5 1415.7L2310.5 1415.8L2315.5 1415.9L2320.5 1416.0"/>
<path stroke="#ff0000" d="M341.5 1011.0L342.0 1016.1L342.5 1021.1L343.0 1026.1L343.5 1031.2L344.0 1036.2L344.6 1041.2L345.2 1046.1L345.8 1051.1L346.4 1056.1L347.0 1061.0L347.7 1066.0L348.3 1070.9L349.0 1075.9L349.7 1080.8L350.4 1085.7L351.1 1090.7L351.9 1095.6L352.6 1100.5L353.4 1105.5L354.1 1110.4L354.9 1115.4L355.7 1120.3L356.5 1125.3L357.3 1130.2L358.1 1135.2L358.9 1140.2L359.8 1145.1L360.6 1150.1L361.5 1155.1L362.4 1160.1L363.3 1165.1L364.3 1170.1L365.3 1175.1L366.3 1180.0L367.4 1185.0L368.5 1189.9L369.7 1194.8L371.0 1199.7L372.3 1204.6L373.7 1209.4L375.2 1214.2L376.7 1219.0L378.3 1223.7L380.0 1228.4L381.8 1233.1L383.7 1237.8L385.7 1242.3L387.8 1246.9L390.0 1251.4L392.3 1255.8L394.7 1260.2L397.2 1264.5L399.9 1268.8L402.6 1272.9L405.4 1277.0L408.3 1281.1L411.3 1285.0L414.4 1288.9L417.7 1292.7L421.0 1296.4L424.4 1299.9L427.9 1303.4L431.5 1306.8L435.3 1310.1L439.1 1313.2L443.0 1316.3L447.0 1319.2L451.1 1322.0L455.3 1324.7L459.5 1327.3L463.9 1329.8L468.3 1332.2L472.8 1334.5L477.3 1336.8L481.8 1339.0L486.4 1341.1L491.1 1343.2L495.7 1345.3L500.4 1347.3L505.1 1349.3L509.8 1351.3L514.5 1353.3L519.2 1355.3L523.8 1357.3L528.5 1359.3L533.2 1361.2L537.8 1363.2L542.5 1365.1L547.1 1367.0L551.8 1368.9L556.4 1370.7L561.1 1372.5L565.8 1374.2L570.5 1375.9L575.2 1377.4L580.0 1378.9L584.7 1380.3L589.5 1381.6L594.4 1382.8L599.2 1384.0L604.1 1385.0L608.9 1386.1L613.8 1387.0L618.7 1387.9L623.7 1388.8L628.6 1389.6L633.5 1390.4L638.5 1391.2L643.4 1392.0L648.4 1392.7L653.3 1393.5L658.3 1394.2L663.2 1395.0L668.2 1395.7L673.2 1396.4L678.1 1397.2L683.1 1397.9L688.1 1398.6L693.0 1399.3L698.0 1400.1L702.9 1400.8L707.9 1401.5L712.9 1402.2L717.9 1402.9L722.8 1403.6L727.8 1404.3L732.8 1404.9L737.8 1405.6L742.7 1406.3L747.7 1406.9L752.7 1407.6L757.7 1408.2L762.6 1408.9L767.6 1409.5L772.6 1410.1L777.6 1410.8L782.6 1411.4L787.6 1412.0L792.6 1412.6L797.5 1413.2L802.5 1413.7L807.5 1414.3L812.5 1414.9L817.5 1415.4L822.5 1416.0L827.5 1416.5L832.5 1417.0L837.5 1417.5L842.5 1418.1L847.5 1418.6L852.5 1419.0L857.5 1419.5L862.5 1420.0L867.5 1420.4L872.5 1420.9L877.5 1421.3L882.5 1421.7L887.5 1422.1L892.6 1422.5L897.6 1422.9L902.6 1423.3L907.6 1423.7L912.6 1424.0L917.6 1424.3L922.6 1424.6L927.7 1424.9L932.7 1425.2L937.7 1425.4L942.7 1425.6L947.7 1425.8L952.7 1426.0L957.8 1426.2L962.8 1426.3L967.8 1426.4L972.8 1426.5L977.8 1426.6L982.8 1426.6L987.8 1426.6L992.9 1426.6L997.9 1426.5L1002.9 1426.4L1007.9 1426.3L1012.9 1426.1L1017.9 1425.9L1022.9 1425.7L1027.9 1425.5L1032.9 1425.2L1038.0 1424.9L1043.0 1424.5L1048.0 1424.2L1053.0 1423.8L1058.0 1423.4L1063.0 1423.0L1068.0 1422.5L1073.0 1422.1L1078.0 1421.6L1083.0 1421.1L1088.0 1420.6L1093.0 1420.0L1098.0 1419.5L1103.0 1419.0L1108.0 1418.4L1113.0 1417.8L1118.0 1417.3L1123.0 1416.7L1128.0 1416.1L1133.0 1415.5L1138.0 1415.0L1143.0 1414.4L1147.9 1413.8L1152.9 1413.2L1157.9 1412.7L1162.9 1412.1L1167.9 1411.6L1172.9 1411.0L1177.9 1410.5L1182.9 1409.9L1187.9 1409.4L1192.9 1408.9L1197.9 1408.4L1202.9 1407.8L1207.9 1407.3L1212.9 1406.8L1217.9 1406.3L1222.9 1405.8L1227.9 1405.4L1232.9 1404.9L1237.9 1404.4L1242.9 1403.9L1247.9 1403.5L1252.9 1403.0L1257.9 1402.6L1262.9 1402.1L1267.9 1401.7L1272.9 1401.2L1277.9 1400.8L1282.9 1400.3L1287.9 1399.9L1292.9 1399.5L1297.9 1399.1L1302.9 1398.7L1307.9 1398.3L1312.9 1397.9L1317.9 1397.5L1322.9 1397.1L1327.9 1396.7L1332.9 1396.3L1337.9 1395.9L1342.9 1395.5L1347.9 1395.1L1352.9 1394.8L1357.9 1394.4L1362.9 1394.0L1367.9 1393.7L1372.9 1393.3L1377.9 1393.0L1382.9 1392.6L1387.9 1392.3L1393.0 1391.9L1398.0 1391.6L1403.0 1391.2L1408.0 1390.9L1413.0 1390.6L1418.0 1390.2L1423.0 1389.9L1428.0 1389.6L1433.0 1389.2L1438.1 1388.9L1443.1 1388.6L1448.1 1388.3L1453.1 1388.0L1458.1 1387.7L1463.1 1387.4L1468.2 1387.1L1473.2 1386.8L1478.2 1386.5L1483.2 1386.2L1488.2 1385.9L1493.3 1385.6L1498.3 1385.3L1503.3 1385.1L1508.3 1384.8L1513.3 1384.6L1518.4 1384.3L1523.4 1384.1L1528.4 1383.9L1533.4 1383.7L1538.4 1383.5L1543.5 1383.3L1548.5 1383.1L1553.5 1382.9L1558.5 1382.7L1563.6 1382.6L1568.6 1382.5L1573.6 1382.3L1578.6 1382.2L1583.6 1382.1L1588.7 1382.1L1593.7 1382.0L1598.7 1382.0L1603.7 1381.9L1608.7 1381.9L1613.7 1381.9L1618.8 1381.9L1623.8 1381.9L1628.8 1382.0L1633.8 1382.0L1638.8 1382.1L1643.8 1382.2L1648.8 1382.3L1653.9 1382.4L1658.9 1382.5L1663.9 1382.7L1668.9 1382.8L1673.9 1383.0L1678.9 1383.2L1683.9 1383.4L1688.9 1383.6L1693.9 1383.8L1699.0 1384.1L1704.0 1384.3L1709.0 1384.6L1714.0 1384.9L1719.0 1385.2L1724.0 1385.5L1729.0 1385.8L1734.0 1386.2L1739.0 1386.5L1744.0 1386.9L1749.0 1387.3L1754.0 1387.7L1759.0 1388.1L1764.0 1388.5L1769.0 1388.9L1774.0 1389.4L1779.0 1389.8L1784.0 1390.3L1789.0 1390.7L1794.0 1391.2L1799.0 1391.7L1804.0 1392.2L1809.0 1392.6L1814.0 1393.1L1819.0 1393.6L1824.0 1394.1L1829.0 1394.6L1834.0 1395.1L1839.0 1395.6L1844.0 1396.1L1849.0 1396.7L1854.0 1397.2L1859.0 1397.7L1864.0 1398.2L1869.0 1398.7L1874.0 1399.2L1879.0 1399.7L1884.0 1400.2L1889.0 1400.7L1894.0 1401.2L1899.0 1401.7L1904.0 1402.2L1909.0 1402.7L1914.0 1403.2L1919.0 1403.6L1924.0 1404.1L1929.0 1404.5L1934.0 1405.0L1939.0 1405.4L1944.1 1405.9L1949.1 1406.3L1954.1 1406.7L1959.1 1407.1L1964.1 1407.5L1969.1 1407.9L1974.1 1408.2L1979.1 1408.6L1984.1 1408.9L1989.1 1409.2L1994.1 1409.5L1999.1 1409.8L2004.1 1410.1L2009.2 1410.4L2014.2 1410.6L2019.2 1410.8L2024.2 1411.1L2029.2 1411.3L2034.2 1411.4L2039.3 1411.6L2044.3 1411.8L2049.3 1411.9L2054.3 1412.1L2059.3 1412.2L2064.3 1412.3L2069.4 1412.4L2074.4 1412.5L2079.4 1412.6L2084.4 1412.6L2089.5 1412.7L2094.5 1412.7L2099.5 1412.8L2104.5 1412.8L2109.5 1412.8L2114.6 1412.9L2119.6 1412.9L2124.6 1412.9L2129.6 1412.9L2134.7 1412.9L2139.7 1412.9L2144.7 1412.8L2149.7 1412.8L2154.8 1412.8L2159.8 1412.8L2164.8 1412.7L2169.8 1412.7L2174.9 1412.7L2179.9 1412.6L2184.9 1412.6L2189.9 1412.6L2195.0 1412.5L2200.0 1412.5L2205.0 1412.4L2210.0 1412.4L2215.1 1412.4L2220.1 1412.3L2225.1 1412.3L2230.1 1412.3L2235.2 1412.3L2240.2 1412.2L2245.2 1412.2L2250.2 1412.2L2255.3 1412.2L2260.3 1412.2L2265.3 1412.2L2270.3 1412.2L2275.3 1412.2L2280.4 1412.2L2285.4 1412.3L2290.4 1412.3L2295.4 1412.3L2300.4 1412.4L2305.5 1412.5L2310.5 1412.5L2315.5 1412.6L2320.5 1412.7"/>
</g>
<g class="tick" text-anchor="middle">
<text x="324.0" y="1532.5">200</text>
<text x="818.3" y="1532.5">300</text>
<text x="1312.9" y="1532.5">400</text>
<text x="1807.7" y="1532.5">500</text>
<text x="2302.0" y="1532.5">600</text>
</g>
<g class="tick" text-anchor="end">
<text x="315.5" y="1432.5">0.0</text>
<text x="315.5" y="1048.5">0.1</text>
<text x="315.5" y="664.4">0.2</text>
<text x="315.5" y="280.4">0.3</text>
</g>
<text class="axt" x="1260" y="1645" text-anchor="middle" letter-spacing="0.36">Wavelength (nm)</text>
<text class="axt" transform="translate(134 794.6) rotate(-90)" text-anchor="middle" letter-spacing="0.34">Absorbance (a.u.)</text>
<rect x="1707.5" y="177" width="436.5" height="112" fill="#fff" stroke="#000" stroke-width="1.6"/>
<text class="ttl" x="1738.5" y="246" letter-spacing="0.1">4Sn–TiO<tspan font-size="36" dy="16">2</tspan><tspan dy="-16"> MW</tspan></text>
<line x1="1904.5" y1="552.4" x2="2033.5" y2="552.4" stroke="#800080" stroke-width="9" stroke-linecap="round"/>
<text class="leg" x="2048.5" y="571.6" letter-spacing="0.4">initial</text>
<line x1="1904.5" y1="624.4" x2="2033.5" y2="624.4" stroke="#000000" stroke-width="9" stroke-linecap="round"/>
<text class="leg" x="2050.0" y="643.4" letter-spacing="0.4">1h</text>
<line x1="1904.5" y1="695.6" x2="2033.5" y2="695.6" stroke="#0000ff" stroke-width="9" stroke-linecap="round"/>
<text class="leg" x="2050.0" y="714.8" letter-spacing="0.4">2h</text>
<line x1="1904.5" y1="766.4" x2="2033.5" y2="766.4" stroke="#ff0000" stroke-width="9" stroke-linecap="round"/>
<text class="leg" x="2050.0" y="786.0" letter-spacing="0.4">3h</text>
<text class="ann" x="1543.5" y="461" letter-spacing="0.2">azo group</text>
<text class="ann" x="1544" y="533">structures</text>
<text class="leg" x="544.5" y="976.6" letter-spacing="0.3">benzene rings</text>
<text class="leg" x="577.5" y="1048" letter-spacing="0.15">structures</text>
<text class="ann" x="834.5" y="578.6" letter-spacing="0.1">methyl orange</text>
<g stroke="#000" stroke-width="2" fill="none" shape-rendering="crispEdges">
<line x1="1653" y1="630" x2="1653" y2="1368" stroke-dasharray="10 3 3 4"/>
<line x1="701" y1="1119.4" x2="701" y2="1363" stroke-dasharray="10 3 3 4"/>
</g>
<polygon points="1644.5,1367.5 1661.5,1367.5 1653,1397" fill="#000"/>
<polygon points="692.5,1362.4 709.5,1362.4 701,1393" fill="#000"/>
<g class="bond">
<polygon points="712.6,393 779.4,433 779.4,516.4 712.6,557 646,516.4 646,433"/>
<line x1="658.6" y1="441" x2="658.6" y2="508"/>
<line x1="712.6" y1="408" x2="768" y2="441.6"/>
<line x1="712.6" y1="542" x2="768" y2="509"/>
<line x1="646" y1="516.4" x2="592.4" y2="548"/>
<line x1="779.4" y1="433" x2="832" y2="402.4"/>
<line x1="859" y1="401.3" x2="898.5" y2="425.8"/>
<line x1="853" y1="412.8" x2="893" y2="437.3"/>
<line x1="926" y1="426" x2="978.6" y2="393"/>
<polygon points="1045,270 1112,310 1112,393 1045,433.6 978.6,393 978.6,310"/>
<line x1="991" y1="319" x2="1045" y2="286"/>
<line x1="1099.6" y1="319" x2="1099.6" y2="385"/>
<line x1="991" y1="386" x2="1045" y2="419.4"/>
<line x1="1112" y1="310" x2="1164" y2="279.6"/>
<line x1="1178" y1="188" x2="1178" y2="253"/>
<line x1="1193" y1="280" x2="1245" y2="312"/>
</g>
<text class="molN" x="845.7" y="405.6" text-anchor="middle">N</text>
<text class="molN" x="911.8" y="445.8" text-anchor="middle">N</text>
<text class="molN" x="1178.2" y="282.4" text-anchor="middle">N</text>
<text class="mol" x="495.5" y="568">NaO<tspan font-size="21" dy="7">3</tspan><tspan dy="-7">S</tspan></text>
</svg>
</body></html>
